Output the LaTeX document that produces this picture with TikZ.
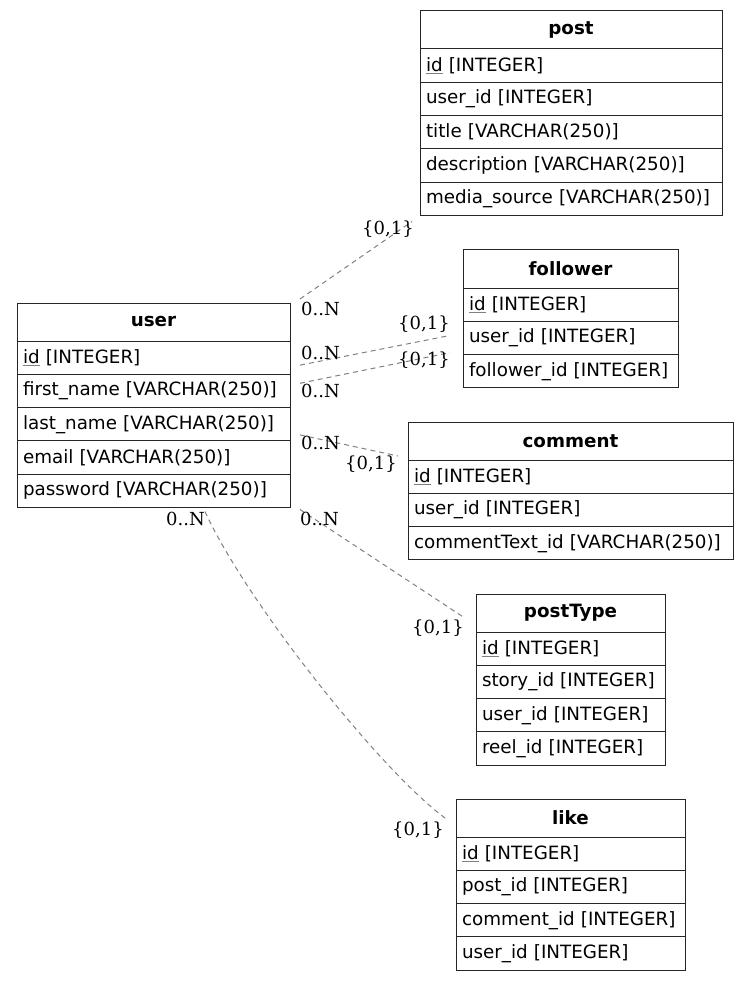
\documentclass[tikz,border=0pt]{standalone}
\usepackage{fontspec}
\setmainfont{DejaVu Serif}
\setsansfont{DejaVu Sans}
\usetikzlibrary{positioning}
\newcommand\keyfield[1]{\setbox0=\hbox{#1}\rlap{\textcolor{black!50}{\rule[-2.5pt]{\wd0}{0.9pt}}}\box0\relax}

\begin{document}
\begin{tikzpicture}[x=1pt,y=-1pt]
\tikzset{tabhead/.style={draw=black!85, line width=1pt, outer sep=0pt, text width=#1, align=center, minimum height=38pt, inner xsep=6pt, inner ysep=0pt, font=\sffamily\bfseries\fontsize{18.3}{21}\selectfont},
  tabrow/.style={draw=black!85, line width=1pt, outer sep=0pt, text width=#1, align=left, minimum height=33.3pt, inner xsep=6pt, inner ysep=0pt, font=\sffamily\fontsize{18.3}{21}\selectfont},
  card/.style={anchor=base west, inner sep=0pt, font=\fontsize{18}{21}\selectfont},
  rel/.style={draw=black!50, line width=1pt, dash pattern=on 5pt off 4pt}}
\useasboundingbox (0,0) rectangle (749,981);
% post
\node[tabhead=290pt, anchor=north west] (P0) at (420,11) {post};
\node[tabrow=290pt, below=0pt of P0] (P1) {\keyfield{id} [INTEGER]};
\node[tabrow=290pt, below=0pt of P1] (P2) {user\_id [INTEGER]};
\node[tabrow=290pt, below=0pt of P2] (P3) {title [VARCHAR(250)]};
\node[tabrow=290pt, below=0pt of P3] (P4) {description [VARCHAR(250)]};
\node[tabrow=290pt, below=0pt of P4] (P5) {media\_source [VARCHAR(250)]};
% follower
\node[tabhead=203pt, anchor=north west] (F0) at (463,250) {follower};
\node[tabrow=203pt, below=0pt of F0] (F1) {\keyfield{id} [INTEGER]};
\node[tabrow=203pt, below=0pt of F1] (F2) {user\_id [INTEGER]};
\node[tabrow=203pt, below=0pt of F2] (F3) {follower\_id [INTEGER]};
% user
\node[tabhead=261pt, anchor=north west] (U0) at (17,303) {user};
\node[tabrow=261pt, below=0pt of U0] (U1) {\keyfield{id} [INTEGER]};
\node[tabrow=261pt, below=0pt of U1] (U2) {first\_name [VARCHAR(250)]};
\node[tabrow=261pt, below=0pt of U2] (U3) {last\_name [VARCHAR(250)]};
\node[tabrow=261pt, below=0pt of U3] (U4) {email [VARCHAR(250)]};
\node[tabrow=261pt, below=0pt of U4] (U5) {password [VARCHAR(250)]};
% comment
\node[tabhead=313pt, anchor=north west] (C0) at (408,422) {comment};
\node[tabrow=313pt, below=0pt of C0] (C1) {\keyfield{id} [INTEGER]};
\node[tabrow=313pt, below=0pt of C1] (C2) {user\_id [INTEGER]};
\node[tabrow=313pt, below=0pt of C2] (C3) {commentText\_id [VARCHAR(250)]};
% postType
\node[tabhead=177pt, anchor=north west] (T0) at (476,594) {postType};
\node[tabrow=177pt, below=0pt of T0] (T1) {\keyfield{id} [INTEGER]};
\node[tabrow=177pt, below=0pt of T1] (T2) {story\_id [INTEGER]};
\node[tabrow=177pt, below=0pt of T2] (T3) {user\_id [INTEGER]};
\node[tabrow=177pt, below=0pt of T3] (T4) {reel\_id [INTEGER]};
% like
\node[tabhead=217pt, anchor=north west] (L0) at (456,799) {like};
\node[tabrow=217pt, below=0pt of L0] (L1) {\keyfield{id} [INTEGER]};
\node[tabrow=217pt, below=0pt of L1] (L2) {post\_id [INTEGER]};
\node[tabrow=217pt, below=0pt of L2] (L3) {comment\_id [INTEGER]};
\node[tabrow=217pt, below=0pt of L3] (L4) {user\_id [INTEGER]};
% relation ends
\coordinate (uP) at ([shift={(10,-4)}]U0.north east);
\coordinate (pU) at ([shift={(-8,6)}]P5.south west);
\coordinate (uF1) at ([shift={(10,7.5)}]U1.east);
\coordinate (fU1) at ([shift={(-13,-2.5)}]F2.west);
\coordinate (uF2) at ([shift={(10,9)}]U1.south east);
\coordinate (fU2) at ([shift={(-13,-2)}]F2.south west);
\coordinate (uC) at ([shift={(10,-6)}]U3.south east);
\coordinate (cU) at ([shift={(-10,-4)}]C0.south west);
\coordinate (uT) at ([shift={(10,2)}]U5.south east);
\coordinate (tU) at ([shift={(-12,4.5)}]T0.west);
\coordinate (uL) at ([shift={(-85,4)}]U5.south east);
\coordinate (lU) at ([shift={(-11,0)}]L0.west);
\draw[rel] (uP) -- (pU);
\draw[rel] (uF1) -- (fU1);
\draw[rel] (uF2) -- (fU2);
\draw[rel] (uC) -- (cU);
\draw[rel] (uT) -- (tU);
\draw[rel] (uL) .. controls (245,600) and (380,770) .. (lU);
% cardinalities
\node[card] (n1) at (301,315) {0..N};
\node[card] (o1) at (362,235) {\{0,1\}};
\node[card] (n2) at (301,359) {0..N};
\node[card] (o2) at (398,329) {\{0,1\}};
\node[card] (n3) at (301,397) {0..N};
\node[card] (o3) at (398,365) {\{0,1\}};
\node[card] (n4) at (301,449) {0..N};
\node[card] (o4) at (345,469) {\{0,1\}};
\node[card] (n5) at (300,525) {0..N};
\node[card] (o5) at (412,633) {\{0,1\}};
\node[card] (n6) at (166,525) {0..N};
\node[card] (o6) at (392,835) {\{0,1\}};
\end{tikzpicture}
\end{document}
